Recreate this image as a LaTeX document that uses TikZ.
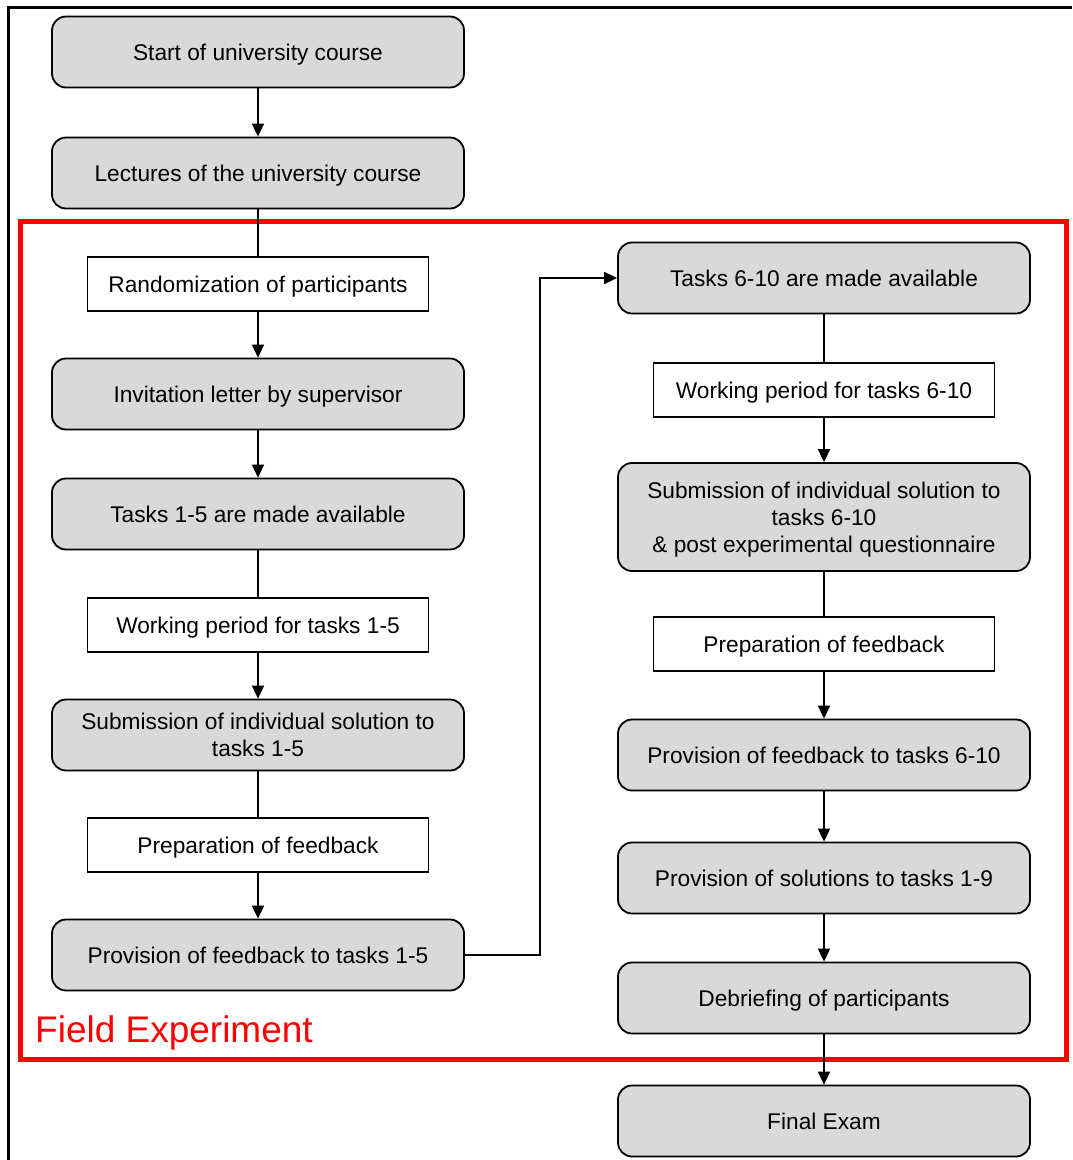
\documentclass[tikz,border=0pt]{standalone}
\usepackage{fontspec}
\setmainfont{Liberation Sans}
\usetikzlibrary{arrows.meta}
\definecolor{boxgray}{HTML}{D9D9D9}
\definecolor{fieldred}{HTML}{FF0000}
\begin{document}
\begin{tikzpicture}[x=1pt,y=-1pt,
  stage/.style={draw, line width=1.8pt, rounded corners=14pt, fill=boxgray,
    minimum width=412pt, minimum height=71pt, inner sep=0pt, align=center,
    text depth=0pt, font=\fontsize{22.7}{27}\selectfont},
  period/.style={draw, line width=1.8pt, fill=white,
    minimum width=341pt, minimum height=54pt, inner sep=0pt, align=center,
    text depth=0pt, font=\fontsize{22.7}{27}\selectfont},
  flow/.style={line width=1.8pt, -{Triangle[length=13pt,width=12pt]}},
  link/.style={line width=1.8pt}]
\useasboundingbox (0,0) rectangle (1072,1160);

% outer frame (open to the right and bottom)
\draw[line width=3pt] (8,1160) -- (8,7) -- (1072,7);

% field experiment frame
\draw[fieldred, line width=5pt] (20,221) rectangle (1066,1059);
\node[anchor=west, text=fieldred, font=\fontsize{37}{44}\selectfont, inner sep=0pt]
  (fieldlabel) at (35,1033) {Field Experiment};

% left column
\node[stage]  (start)  at (258,52)  {Start of university course};
\node[stage]  (lect)   at (258,173) {Lectures of the university course};
\node[period] (rand)   at (258,284) {Randomization of participants};
\node[stage]  (inv)    at (258,394) {Invitation letter by supervisor};
\node[stage]  (tA)     at (258,514) {Tasks 1-5 are made available};
\node[period] (wpA)    at (258,625) {Working period for tasks 1-5};
\node[stage]  (subA)   at (258,735) {Submission of individual solution to\\tasks 1-5};
\node[period] (prepA)  at (258,845) {Preparation of feedback};
\node[stage]  (provA)  at (258,955) {Provision of feedback to tasks 1-5};

% right column
\node[stage]  (tB)     at (824,278) {Tasks 6-10 are made available};
\node[period] (wpB)    at (824,390) {Working period for tasks 6-10};
\node[stage, minimum height=108pt] (subB) at (824,517)
  {Submission of individual solution to\\tasks 6-10\\\& post experimental questionnaire};
\node[period] (prepB)  at (824,644) {Preparation of feedback};
\node[stage]  (provB)  at (824,755) {Provision of feedback to tasks 6-10};
\node[stage]  (sol)    at (824,878) {Provision of solutions to tasks 1-9};
\node[stage]  (deb)    at (824,998) {Debriefing of participants};
\node[stage]  (final)  at (824,1121) {Final Exam};

% connectors
\draw[flow] (start) -- (lect);
\draw[link] (lect) -- (rand);
\draw[flow] (rand) -- (inv);
\draw[flow] (inv) -- (tA);
\draw[link] (tA) -- (wpA);
\draw[flow] (wpA) -- (subA);
\draw[link] (subA) -- (prepA);
\draw[flow] (prepA) -- (provA);
\coordinate (turn) at (540,955);
\draw[flow] (provA.east) -- (turn) |- (tB.west);
\draw[link] (tB) -- (wpB);
\draw[flow] (wpB) -- (subB);
\draw[link] (subB) -- (prepB);
\draw[flow] (prepB) -- (provB);
\draw[flow] (provB) -- (sol);
\draw[flow] (sol) -- (deb);
\draw[flow] (deb) -- (final);
\end{tikzpicture}
\end{document}
